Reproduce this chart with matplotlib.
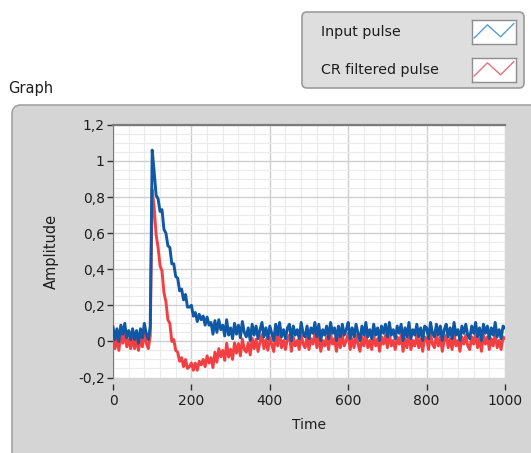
import numpy as np
import matplotlib
matplotlib.use("Agg")
import matplotlib.pyplot as plt
from matplotlib.patches import FancyBboxPatch

# samples every 5 time units
time = np.arange(0, 1001, 5)

input_pulse = [
    0.08, 0.01, 0.07, 0.00, 0.09, 0.04, 0.10, 0.02, 0.06, 0.01,
    0.07, 0.01, 0.06, -0.01, 0.07, 0.02, 0.10, 0.04, 0.01, 0.08,
    1.06, 0.94, 0.81, 0.79, 0.72, 0.73, 0.62, 0.60, 0.53, 0.52,
    0.43, 0.43, 0.36, 0.35, 0.28, 0.29, 0.23, 0.26, 0.19, 0.19,
    0.20, 0.14, 0.16, 0.11, 0.15, 0.12, 0.14, 0.09, 0.135, 0.09,
    0.105, 0.04, 0.115, 0.05, 0.12, 0.065, 0.09, 0.03, 0.12, 0.035,
    0.075, 0.015, 0.10, 0.04, 0.09, 0.02, 0.11, 0.05, 0.025, 0.075,
    0.005, 0.095, 0.035, 0.085, 0.015, 0.065, 0.105, 0.025, 0.075, 0.015,
    0.085, 0.045, 0.005, 0.095, 0.035, 0.105, 0.025, 0.065, 0.015, 0.075,
    0.095, 0.005, 0.085, 0.035, 0.065, 0.015, 0.105, 0.045, 0.025, 0.085,
    0.015, 0.075, 0.045, 0.105, 0.025, 0.095, 0.005, 0.065, 0.035, 0.085,
    0.015, 0.105, 0.045, 0.075, 0.005, 0.085, 0.025, 0.095, 0.035, 0.065,
    0.105, 0.015, 0.075, 0.025, 0.095, 0.045, 0.005, 0.085, 0.035, 0.105,
    0.025, 0.065, 0.015, 0.095, 0.035, 0.075, 0.005, 0.085, 0.045, 0.095,
    0.025, 0.105, 0.035, 0.065, 0.015, 0.085, 0.045, 0.095, 0.005, 0.075,
    0.025, 0.105, 0.015, 0.065, 0.035, 0.095, 0.025, 0.075, 0.005, 0.085,
    0.075, 0.015, 0.105, 0.045, 0.025, 0.095, 0.035, 0.085, 0.005, 0.065,
    0.095, 0.025, 0.075, 0.015, 0.105, 0.035, 0.065, 0.005, 0.085, 0.045,
    0.095, 0.035, 0.015, 0.085, 0.045, 0.105, 0.025, 0.075, 0.005, 0.095,
    0.045, 0.085, 0.015, 0.075, 0.035, 0.105, 0.025, 0.065, 0.015, 0.085,
    0.075,
]

cr_filtered = [
    0.03, -0.04, 0.02, -0.05, 0.04, -0.01, 0.05, -0.03, 0.01, -0.04,
    0.02, -0.04, 0.01, -0.05, 0.02, -0.03, 0.05, -0.01, -0.04, 0.03,
    0.84, 0.74, 0.59, 0.52, 0.42, 0.39, 0.27, 0.22, 0.12, 0.10,
    0.00, 0.01, -0.05, -0.06, -0.11, -0.09, -0.14, -0.10, -0.15, -0.14,
    -0.12, -0.16, -0.12, -0.16, -0.11, -0.13, -0.10, -0.14, -0.08, -0.12,
    -0.09, -0.145, -0.06, -0.115, -0.04, -0.085, -0.05, -0.105, -0.01, -0.087,
    -0.044, -0.10, -0.008, -0.065, -0.012, -0.08, 0.013, -0.044, -0.06, -0.008,
    -0.075, 0.018, -0.04, 0.012, -0.056, -0.004, 0.038, -0.04, 0.01, -0.049,
    0.022, -0.017, -0.056, 0.035, -0.025, 0.045, -0.035, 0.005, -0.045, 0.015,
    0.035, -0.055, 0.025, -0.025, 0.005, -0.045, 0.045, -0.015, -0.035, 0.025,
    -0.045, 0.015, -0.015, 0.045, -0.035, 0.035, -0.055, 0.005, -0.025, 0.025,
    -0.045, 0.045, -0.015, 0.015, -0.055, 0.025, -0.035, 0.035, -0.025, 0.005,
    0.045, -0.045, 0.015, -0.035, 0.035, -0.015, -0.055, 0.025, -0.025, 0.045,
    -0.035, 0.005, -0.045, 0.035, -0.025, 0.015, -0.055, 0.025, -0.015, 0.035,
    -0.035, 0.045, -0.025, 0.005, -0.045, 0.025, -0.015, 0.035, -0.055, 0.015,
    -0.035, 0.045, -0.045, 0.005, -0.025, 0.035, -0.035, 0.015, -0.055, 0.025,
    0.015, -0.045, 0.045, -0.015, -0.035, 0.035, -0.025, 0.025, -0.055, 0.005,
    0.035, -0.035, 0.015, -0.045, 0.045, -0.025, 0.005, -0.055, 0.025, -0.015,
    0.035, -0.025, -0.045, 0.025, -0.015, 0.045, -0.035, 0.015, -0.055, 0.035,
    -0.015, 0.025, -0.045, 0.015, -0.025, 0.045, -0.035, 0.005, -0.045, 0.025,
    0.015,
]

x_ticks = [0, 200, 400, 600, 800, 1000]
y_ticks = [-0.2, 0, 0.2, 0.4, 0.6, 0.8, 1, 1.2]
y_tick_labels = ["-0,2", "0", "0,2", "0,4", "0,6", "0,8", "1", "1,2"]
series_names = ["Input pulse", "CR filtered pulse"]

BLUE = "#0f58a5"
RED = "#f43f42"
TXT = "#1e1e1e"

W, H = 531, 453
fig = plt.figure(figsize=(W / 100, H / 100), dpi=100)
fig.patch.set_facecolor("white")

# background layer in pixel coordinates (panel, legend box, caption)
bg = fig.add_axes([0, 0, 1, 1])
bg.set_xlim(0, W)
bg.set_ylim(H, 0)
bg.axis("off")

panel = FancyBboxPatch((12, 105), 560, 400, boxstyle="round,pad=0,rounding_size=9",
                       facecolor="#d5d5d5", edgecolor="#a3a3a3", linewidth=1.2)
bg.add_patch(panel)
bg.text(8, 88, "Graph", fontsize=10.5, color=TXT, va="center", ha="left")

legend_box = FancyBboxPatch((302, 12), 222, 76, boxstyle="round,pad=0,rounding_size=5",
                            facecolor="#dedede", edgecolor="#9b9b9b", linewidth=1.2)
bg.add_patch(legend_box)
row_y = [32, 70]
for name, yy in zip(series_names, row_y):
    bg.text(321, yy, name, fontsize=10.3, color=TXT, va="center", ha="left")

# legend icons: small white boxes with a zigzag in the trace colour
icon_shape = [0.25, 0.8, 0.3, 0.85]
for color, yy in zip(["#5a9bd5", "#e8707c"], row_y):
    top = (H - yy - 12) / H
    ic = fig.add_axes([472 / W, top, 44 / W, 24 / H])
    ic.set_facecolor("white")
    ic.plot(np.linspace(0.05, 0.95, len(icon_shape)), icon_shape, color=color, lw=1.0)
    ic.set_xlim(0, 1)
    ic.set_ylim(0, 1)
    ic.set_xticks([])
    ic.set_yticks([])
    for s in ic.spines.values():
        s.set_color("#8e8e8e")
        s.set_linewidth(1.0)

# plot area
left, right, top_px, bot_px = 113, 505, 124.8, 377.5
ax = fig.add_axes([left / W, 1 - bot_px / H, (right - left) / W, (bot_px - top_px) / H])
ax.set_facecolor("white")
ax.plot(time, cr_filtered, color=RED, lw=2.1, zorder=3)
ax.plot(time, input_pulse, color=BLUE, lw=2.1, zorder=4)

ax.set_xlim(0, 1000)
ax.set_ylim(-0.2, 1.2)
ax.set_xticks(x_ticks)
ax.set_xticks(np.arange(0, 1001, 40), minor=True)
ax.set_yticks(y_ticks)
ax.set_yticklabels(y_tick_labels)
ax.set_yticks(np.arange(-0.2, 1.21, 0.05), minor=True)
ax.grid(which="major", color="#cfcfcf", lw=1.0)
ax.grid(which="minor", color="#ebebeb", lw=0.8)
ax.set_axisbelow(True)

ax.tick_params(axis="both", which="major", labelsize=10, labelcolor=TXT,
               color="#303030", length=4, width=1.0, direction="out", pad=2)
ax.tick_params(axis="both", which="minor", length=0)
ax.tick_params(axis="x", pad=3)

ax.spines["right"].set_visible(False)
ax.spines["bottom"].set_position(("outward", 5))
ax.spines["bottom"].set_color("none")
ax.spines["left"].set_color("#7a7a7a")
ax.spines["top"].set_color("#7a7a7a")
ax.spines["top"].set_linewidth(1.6)

ax.set_xlabel("Time", fontsize=10, color=TXT, labelpad=7)
ax.set_ylabel("Amplitude", fontsize=10.5, color=TXT, labelpad=14)

fig.savefig("out.png", dpi=100, facecolor=fig.get_facecolor())
